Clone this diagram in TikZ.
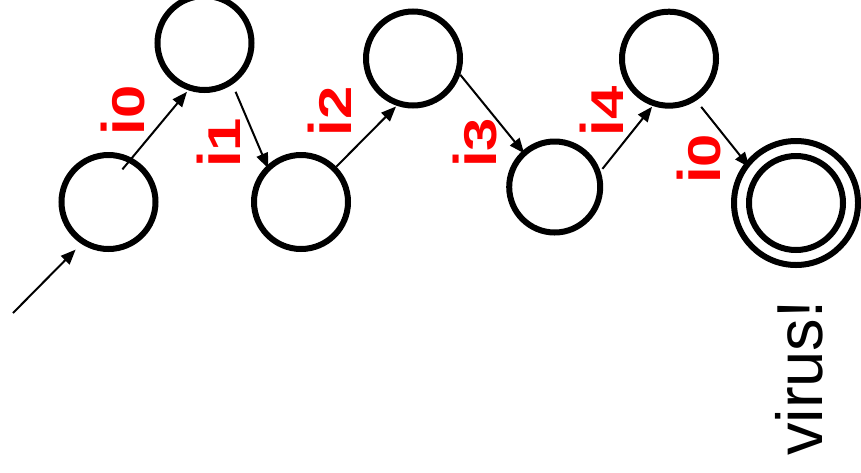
\documentclass[tikz,border=0pt]{standalone}
\usepackage{fontspec}
\setmainfont{Liberation Sans}
\usetikzlibrary{arrows.meta}
\newcommand\edgelab[1]{{\fontsize{60}{60}\selectfont\bfseries i}\scalebox{1.3}[1]{\fontsize{46}{46}\selectfont\bfseries #1}}
\begin{document}
\begin{tikzpicture}[x=1pt,y=-1pt,
  state/.style={circle,draw,line width=6pt,minimum size=94pt,inner sep=0pt},
  arr/.style={line width=2pt,-{Triangle[length=15pt,width=12pt]}},
  lab/.style={rotate=90,anchor=base west,inner sep=0pt,text=red}]
\useasboundingbox (0,0) rectangle (861,472);
\node[state] (s0) at (108.5,202) {};
\node[state] (s1) at (204.5,43) {};
\node[state] (s2) at (301,202) {};
\node[state] (s3) at (413,58.5) {};
\node[state,minimum size=91pt] (s4) at (554.7,187) {};
\node[state] (s5) at (669,58.7) {};
\node[state] (s6) at (796,203) {};
\draw[line width=6pt] (s6.center) circle[radius=62pt];
\coordinate (in) at (13,313);
\draw[arr, shorten >=8pt] (in) -- (s0.237);
\draw[arr, shorten <=-15pt, shorten >=2pt] (s0.62) -- (s1.251);
\draw[arr, shorten <=8pt, shorten >=-3pt] (s1.304) -- (s2.133);
\draw[arr, shorten >=1pt] (s2.45) -- (s3.251);
\draw[arr, shorten >=-3pt] (s3.341) -- (s4.132);
\draw[arr, shorten <=3pt, shorten >=1pt] (s4.19) -- (s5.251);
\draw[arr, shorten <=8pt, shorten >=9pt] (s5.303) -- (s6.145);
\node[lab] (l0) at (144.5,135.7) {\edgelab{0}};
\node[lab] (l1) at (240,168) {\edgelab{1}};
\node[lab] (l2) at (351.7,136.3) {\edgelab{2}};
\node[lab] (l3) at (496.7,168) {\edgelab{3}};
\node[lab] (l4) at (623.3,136.3) {\edgelab{4}};
\node[lab] (l5) at (720.7,184) {\edgelab{0}};
\node[rotate=90,anchor=base west,inner sep=0pt,font=\fontsize{65}{65}\selectfont] (v) at (822.3,456) {virus!};
\end{tikzpicture}
\end{document}
